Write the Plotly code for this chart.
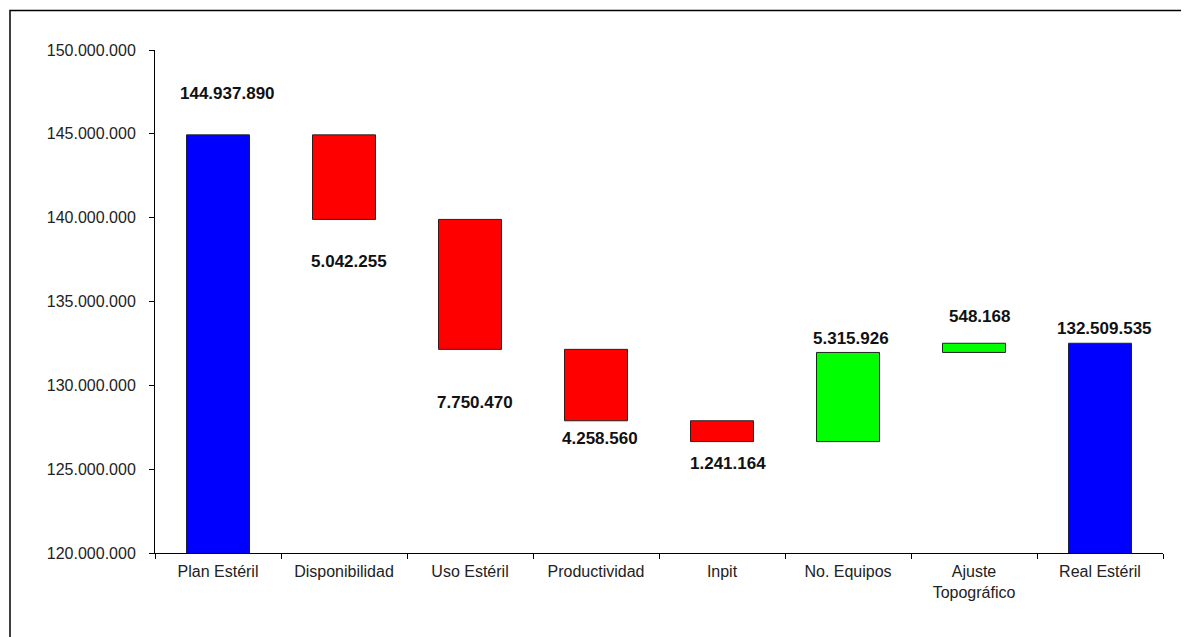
import plotly.graph_objects as go

# ---- data ----
categories = ["Plan Estéril", "Disponibilidad", "Uso Estéril", "Productividad",
              "Inpit", "No. Equipos", "Ajuste<br>Topográfico", "Real Estéril"]
measures = ["absolute", "relative", "relative", "relative",
            "relative", "relative", "relative", "total"]
values = [144937890, -5042255, -7750470, -4258560, -1241164, 5315926, 548168, 132509535]
y_ticks = [120000000, 125000000, 130000000, 135000000, 140000000, 145000000, 150000000]

# label offsets (pixels, style only)
label_yshift = [41, -42, -53, -18, -22, 14, 27, 15]
label_xshift = [9, 5, 5, 4, 6, 3, 5, 4]

# page has an 8px body margin; figure placed at (8, 8)
OFF = 8
W, H = 1189 - OFF, 637 - OFF
ML, MT = 155 - OFF, 50 - OFF
MR = W - (1163 - OFF)
MB = H - (553 - OFF)

wf_y = [v if m != "total" else 0 for v, m in zip(values, measures)]

fig = go.Figure(go.Waterfall(
    x=categories, y=wf_y, measure=measures, width=0.5,
    connector=dict(visible=False),
    increasing=dict(marker=dict(color="#00FF00", line=dict(color="#222222", width=1))),
    decreasing=dict(marker=dict(color="#FF0000", line=dict(color="#222222", width=1))),
    totals=dict(marker=dict(color="#0000FF", line=dict(color="#222222", width=1))),
    hoverinfo="skip", showlegend=False,
))

def fmt(v):
    return f"{abs(v):,}".replace(",", ".")

running = 0
annotations = []
for i, (c, v, m) in enumerate(zip(categories, values, measures)):
    if m == "absolute":
        running = v
        anchor = v
    elif m == "total":
        anchor = running
    else:
        running += v
        anchor = running
    annotations.append(dict(
        x=c, y=anchor, xref="x", yref="y", text="<b>" + fmt(v) + "</b>", showarrow=False,
        yanchor="middle", xanchor="center",
        yshift=label_yshift[i], xshift=label_xshift[i],
        font=dict(family="Liberation Sans, Arial", size=17, color="#111111"),
    ))

pw = W - ML - MR
ph = H - MT - MB
def px_x(p): return (p - OFF - ML) / pw
def px_y(p): return (H - MB - (p - OFF)) / ph

fig.update_layout(
    width=W, height=H,
    margin=dict(l=ML, r=MR, t=MT, b=MB),
    paper_bgcolor="white", plot_bgcolor="white",
    separators=",.",
    annotations=annotations,
    font=dict(family="Liberation Sans, Arial", size=16, color="#222222"),
    xaxis=dict(
        type="category", showline=True, linecolor="black", linewidth=1,
        ticks="outside", tickson="boundaries", ticklen=5, tickcolor="black",
        showgrid=False, tickfont=dict(size=16, color="#222222"),
        ticklabelstandoff=4,
    ),
    yaxis=dict(
        range=[120000000, 150000000], tickvals=y_ticks, tickformat=",d",
        showline=True, linecolor="black", linewidth=1,
        ticks="outside", ticklen=5, tickcolor="black",
        showgrid=False, zeroline=False, tickfont=dict(size=16, color="#222222"),
        ticklabelstandoff=10,
    ),
    shapes=[dict(type="rect", xref="paper", yref="paper",
                 x0=px_x(10), x1=px_x(1185), y0=px_y(660), y1=px_y(10.5),
                 line=dict(color="black", width=1.5), fillcolor="rgba(0,0,0,0)",
                 layer="below")],
)

fig.write_html("out.html")
